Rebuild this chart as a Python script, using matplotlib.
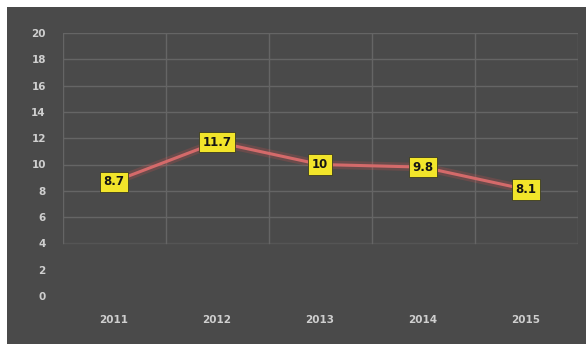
import matplotlib
matplotlib.use("Agg")
import matplotlib.pyplot as plt
from matplotlib.patches import Rectangle

years = ["2011", "2012", "2013", "2014", "2015"]
values = [8.7, 11.7, 10, 9.8, 8.1]
labels = ["8.7", "11.7", "10", "9.8", "8.1"]
yticks = [0, 2, 4, 6, 8, 10, 12, 14, 16, 18, 20]

W, H = 586, 344
fig = plt.figure(figsize=(W / 100, H / 100), dpi=100)
fig.patch.set_facecolor("white")
bg = "#4a4a4a"
fig.patches.append(Rectangle((7 / W, 0), 1 - 7 / W, 1 - 7 / H, transform=fig.transFigure,
                             facecolor=bg, edgecolor="none", zorder=-10))

ax = fig.add_axes([62.5 / W, 1 - 296 / H, (577.5 - 62.5) / W, (296 - 33) / H])
ax.set_facecolor(bg)
x = list(range(len(years)))
ax.set_xlim(-0.5, len(years) - 0.5)
ax.set_ylim(0, 20)

grid_c = "#656565"
for yv in yticks:
    if yv >= 6:
        ax.axhline(yv, color=grid_c, lw=1.0, zorder=1)
ax.axhline(4, color="#555555", lw=1.0, zorder=1)
for i in range(len(years) + 1):
    ax.plot([i - 0.5, i - 0.5], [4, 20], color=grid_c, lw=1.0, zorder=1)

ax.plot(x, values, color="#d9534f", lw=6, alpha=0.22, zorder=2, solid_capstyle="round")
ax.plot(x, values, color="#d46a6a", lw=2.2, zorder=3, solid_capstyle="round")

for xi, v, lab in zip(x, values, labels):
    ax.text(xi, v, lab, ha="center", va="center", fontsize=8.5, fontweight="bold",
            color="#151515", zorder=5,
            bbox=dict(boxstyle="square,pad=0.3", facecolor="#f2e52a", edgecolor="#3a3a20", lw=0.6))

ax.set_xticks(x)
ax.set_xticklabels(years)
ax.set_yticks(yticks)
ax.set_yticklabels([str(t) for t in yticks])
ax.tick_params(axis="both", length=0, colors="#cfcfcf", labelsize=7.5)
for t in ax.get_xticklabels() + ax.get_yticklabels():
    t.set_fontweight("bold")
ax.tick_params(axis="y", pad=12)
ax.tick_params(axis="x", pad=14)
for s in ax.spines.values():
    s.set_visible(False)

fig.savefig("out.png", dpi=100, facecolor=fig.get_facecolor())
